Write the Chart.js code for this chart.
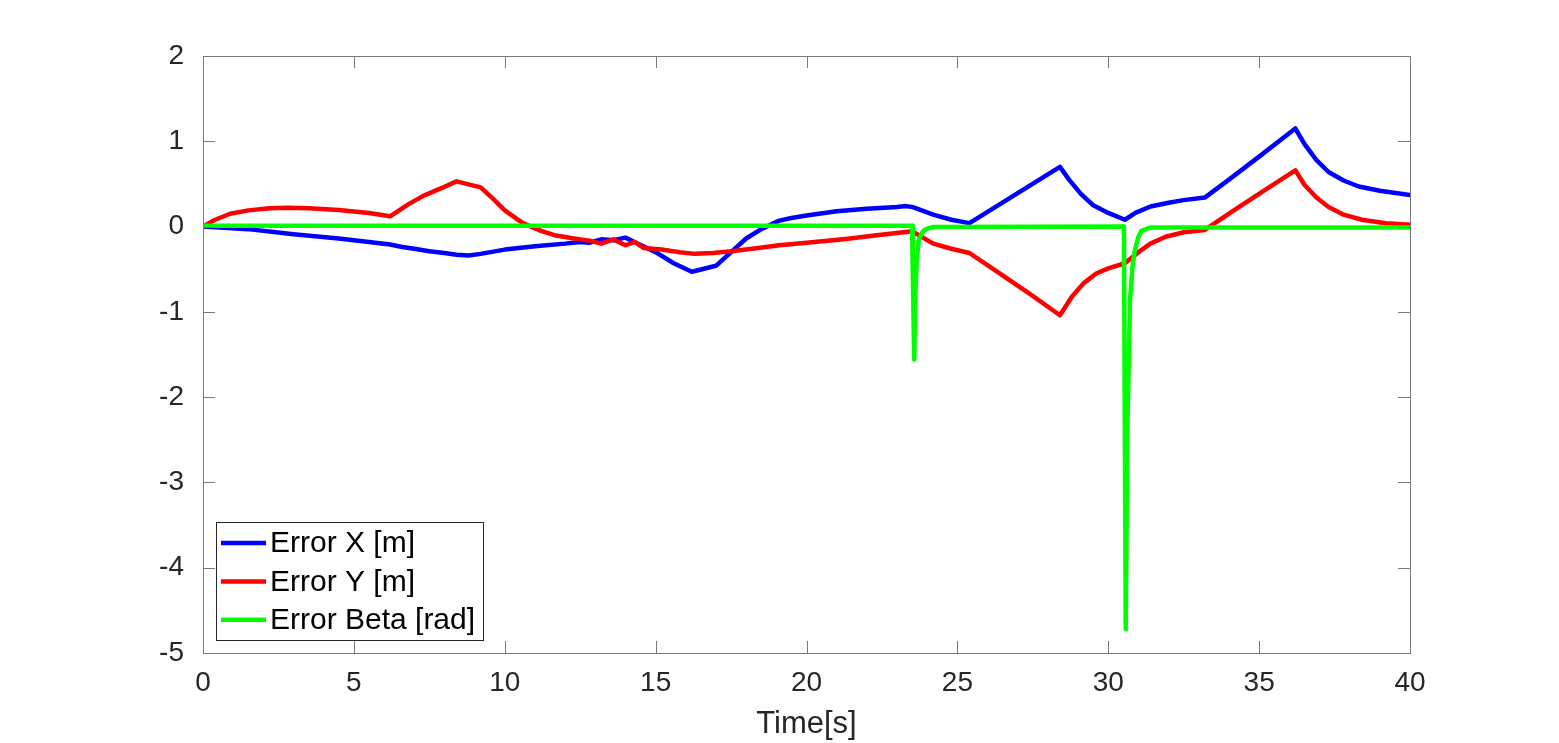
<!DOCTYPE html>
<html lang="en">

<head>
    <meta charset="UTF-8">
    <title>Error plot</title>
    <style>
        body { margin: 0; background: #fff; }
    </style>
</head>

<body>
    <canvas id="chart" width="1559" height="743"></canvas>
</body>

<script src="https://cdn.jsdelivr.net/npm/chart.js@4.4.1/dist/chart.umd.min.js"></script>

<script>
    // time axis and error values
    const tX = [0, 1.5, 3, 4.5, 5.5, 6.2, 6.6, 7.0, 7.5, 8.0, 8.4, 8.8, 9.2, 10.0, 11.0, 12.0, 12.5, 12.8, 13.2, 13.6, 14.0, 14.3,
        15.0, 15.6, 16.2, 17.0, 17.5, 18.0, 18.5, 19.1, 19.5, 20.0, 21.0, 22.0, 23.0, 23.3, 23.5, 24.2, 24.8, 25.4, 26.4, 27.4,
        28.4, 28.7, 29.1, 29.5, 30.0, 30.55, 30.9, 31.4, 32.0, 32.5, 33.2, 34.0, 35.0, 36.2, 36.5, 36.9, 37.3, 37.8, 38.3, 39.0, 40];
    const errX = [0, -0.03, -0.09, -0.14, -0.18, -0.21, -0.24, -0.26, -0.29, -0.31, -0.33, -0.34, -0.32, -0.27, -0.23, -0.2, -0.18, -0.19, -0.15, -0.16, -0.13, -0.18,
        -0.3, -0.43, -0.53, -0.46, -0.3, -0.14, -0.03, 0.07, 0.1, 0.13, 0.18, 0.21, 0.23, 0.24, 0.23, 0.14, 0.08, 0.04, 0.26, 0.48,
        0.70, 0.55, 0.38, 0.25, 0.16, 0.08, 0.16, 0.235, 0.28, 0.31, 0.34, 0.55, 0.82, 1.15, 0.97, 0.78, 0.64, 0.54, 0.47, 0.42, 0.37];

    const tY = [0, 0.4, 0.9, 1.5, 2.2, 2.8, 3.5, 4.5, 5.5, 6.2, 6.8, 7.3, 7.9, 8.4, 9.2, 9.6, 10.0, 10.6, 11.2, 11.7, 12.3, 12.8,
        13.2, 13.6, 14.0, 14.3, 14.6, 15.2, 15.8, 16.3, 16.9, 17.5, 18.2, 19.1, 20.0, 21.3, 22.4, 23.5, 24.2, 24.8, 25.4, 26.4,
        27.4, 28.4, 28.8, 29.2, 29.6, 30.0, 30.55, 31.0, 31.4, 31.9, 32.5, 33.2, 34.2, 35.2, 36.2, 36.5, 36.9, 37.3, 37.8, 38.4, 39.2, 40];
    const errY = [0, 0.08, 0.15, 0.19, 0.215, 0.22, 0.215, 0.195, 0.16, 0.12, 0.26, 0.36, 0.45, 0.53, 0.46, 0.33, 0.19, 0.04, -0.05, -0.105, -0.14, -0.165,
        -0.2, -0.15, -0.22, -0.18, -0.25, -0.27, -0.3, -0.32, -0.31, -0.29, -0.26, -0.22, -0.19, -0.145, -0.1, -0.055, -0.2, -0.26, -0.31, -0.55,
        -0.79, -1.04, -0.82, -0.66, -0.55, -0.49, -0.43, -0.3, -0.2, -0.12, -0.067, -0.04, 0.2, 0.43, 0.66, 0.49, 0.34, 0.23, 0.14, 0.08, 0.04, 0.02];

    const tBeta = [0, 23.5, 23.52, 23.57, 23.6, 23.65, 23.72, 23.85, 23.95, 24.2, 30.52, 30.55, 30.58, 30.63, 30.72, 30.8, 30.88, 31.0, 31.1, 31.4, 40];
    const errBeta = [0.01, 0.01, -0.5, -1.56, -0.87, -0.4, -0.16, -0.06, -0.03, -0.005, 0, -2.5, -4.72, -2.43, -0.87, -0.48, -0.28, -0.12, -0.05, -0.01, -0.01];

    const xTicks = [0, 5, 10, 15, 20, 25, 30, 35, 40];
    const yTicks = [-5, -4, -3, -2, -1, 0, 1, 2];

    const seriesNames = ['Error X [m]', 'Error Y [m]', 'Error Beta [rad]'];
    const seriesColors = ['#0000ff', '#ff0000', '#00ff00'];

    function toPoints(ts, vs) {
        return ts.map((t, i) => ({ x: t, y: vs[i] }));
    }

    const axisColor = '#262626';
    const frameColor = '#7a7a7a';

    // box around the axes with inward ticks, like the original
    const framePlugin = {
        id: 'frame',
        afterDatasetsDraw(chart) {
            const { ctx, chartArea: a, scales } = chart;
            ctx.save();
            ctx.strokeStyle = frameColor;
            ctx.lineWidth = 1;
            ctx.strokeRect(a.left + 0.5, a.top + 0.5, a.right - a.left, a.bottom - a.top);
            ctx.beginPath();
            const len = 12;
            xTicks.forEach(v => {
                const px = Math.round(scales.x.getPixelForValue(v)) + 0.5;
                ctx.moveTo(px, a.bottom); ctx.lineTo(px, a.bottom - len);
                ctx.moveTo(px, a.top); ctx.lineTo(px, a.top + len);
            });
            yTicks.forEach(v => {
                const py = Math.round(scales.y.getPixelForValue(v)) + 0.5;
                ctx.moveTo(a.left, py); ctx.lineTo(a.left + len, py);
                ctx.moveTo(a.right, py); ctx.lineTo(a.right - len, py);
            });
            ctx.stroke();
            ctx.restore();
        }
    };

    // legend box in the lower left corner of the axes
    const legendPlugin = {
        id: 'boxLegend',
        afterDraw(chart) {
            const { ctx, chartArea: a } = chart;
            const x0 = a.left + 13, y0 = a.bottom - 131, w = 267, h = 118;
            ctx.save();
            ctx.fillStyle = '#fff';
            ctx.fillRect(x0, y0, w, h);
            ctx.strokeStyle = axisColor;
            ctx.lineWidth = 1;
            ctx.strokeRect(x0 + 0.5, y0 + 0.5, w, h);
            ctx.font = '30px "Liberation Sans", Arial, sans-serif';
            ctx.textBaseline = 'middle';
            ctx.fillStyle = '#000';
            chart.data.datasets.forEach((ds, i) => {
                const cy = y0 + 21 + i * 38.4;
                ctx.strokeStyle = ds.borderColor;
                ctx.lineWidth = 4.5;
                ctx.beginPath();
                ctx.moveTo(x0 + 5, cy);
                ctx.lineTo(x0 + 50, cy);
                ctx.stroke();
                ctx.fillText(ds.label, x0 + 54, cy + 1);
            });
            ctx.restore();
        }
    };

    const ctx = document.getElementById('chart');
    const data = {
        datasets: [
            { label: seriesNames[0], data: toPoints(tX, errX), borderColor: seriesColors[0], order: 3 },
            { label: seriesNames[1], data: toPoints(tY, errY), borderColor: seriesColors[1], order: 2 },
            { label: seriesNames[2], data: toPoints(tBeta, errBeta), borderColor: seriesColors[2], order: 1 }
        ]
    };

    const config = {
        type: 'line',
        data: data,
        options: {
            responsive: false,
            animation: false,
            events: [],
            layout: { padding: { left: 0, top: 56, right: 149, bottom: 0 } },
            elements: {
                line: { borderWidth: 4.5, tension: 0, borderJoinStyle: 'round', borderCapStyle: 'round', fill: false },
                point: { radius: 0 }
            },
            plugins: {
                legend: { display: false },
                tooltip: { enabled: false }
            },
            scales: {
                x: {
                    type: 'linear',
                    min: 0,
                    max: 40,
                    afterBuildTicks: s => { s.ticks = xTicks.map(v => ({ value: v })); },
                    afterFit: s => { s.height = 90; },
                    grid: { display: false },
                    border: { display: false },
                    ticks: {
                        color: axisColor,
                        padding: 5,
                        maxRotation: 0,
                        font: { family: '"Liberation Sans", Arial, sans-serif', size: 28 }
                    },
                    title: {
                        display: true,
                        text: 'Time[s]',
                        color: axisColor,
                        padding: { top: 0, bottom: 0 },
                        font: { family: '"Liberation Sans", Arial, sans-serif', size: 31 }
                    }
                },
                y: {
                    type: 'linear',
                    min: -5,
                    max: 2,
                    afterBuildTicks: s => { s.ticks = yTicks.map(v => ({ value: v })); },
                    afterFit: s => { s.width = 203; },
                    grid: { display: false },
                    border: { display: false },
                    ticks: {
                        color: axisColor,
                        padding: 11,
                        font: { family: '"Liberation Sans", Arial, sans-serif', size: 28 }
                    }
                }
            }
        },
        plugins: [framePlugin, legendPlugin]
    };
    const chart = new Chart(ctx, config);
</script>

</html>
